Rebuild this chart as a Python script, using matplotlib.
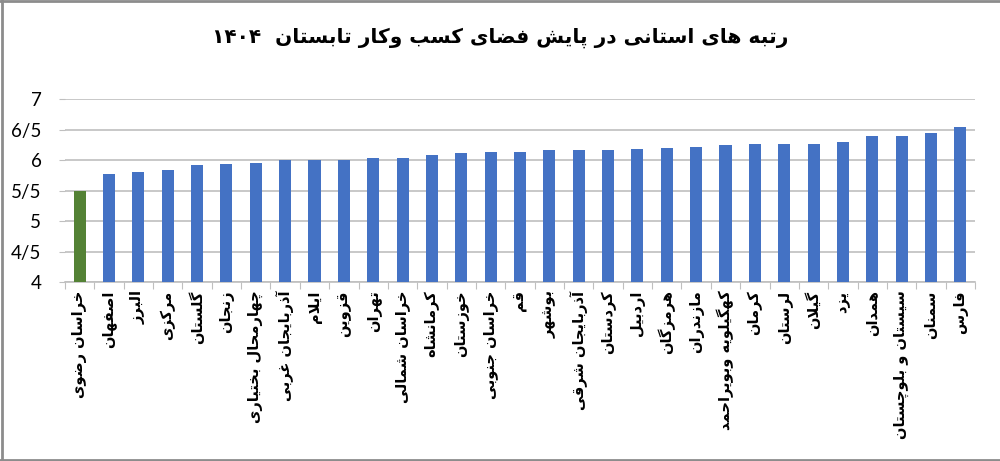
import re
import matplotlib
matplotlib.use('Agg')
import matplotlib.pyplot as plt
from matplotlib.ticker import FuncFormatter, FixedLocator, NullFormatter
from matplotlib.lines import Line2D

provinces = ['خراسان رضوی', 'اصفهان', 'البرز', 'مرکزی', 'گلستان', 'زنجان',
             'چهارمحال بختیاری', 'آذربایجان غربی', 'ایلام', 'قزوین', 'تهران',
             'خراسان شمالی', 'کرمانشاه', 'خوزستان', 'خراسان جنوبی', 'قم',
             'بوشهر', 'آذربایجان شرقی', 'کردستان', 'اردبیل', 'هرمزگان',
             'مازندران', 'کهگیلویه وبویراحمد', 'کرمان', 'لرستان', 'گیلان',
             'یزد', 'همدان', 'سیستان و بلوچستان', 'سمنان', 'فارس']
scores = [5.50, 5.77, 5.81, 5.83, 5.92, 5.94, 5.96, 6.00, 6.00, 6.01, 6.04,
          6.04, 6.08, 6.12, 6.14, 6.14, 6.17, 6.17, 6.17, 6.19, 6.20,
          6.22, 6.24, 6.26, 6.26, 6.27, 6.30, 6.39, 6.40, 6.44, 6.55]
title = 'رتبه های استانی در پایش فضای کسب وکار تابستان  ۱۴۰۴'

# presentation forms: isolated, final, initial, medial (None = right-joining)
FORMS = {
    'ا': (0xFE8D, 0xFE8E, None, None), 'آ': (0xFE81, 0xFE82, None, None),
    'ب': (0xFE8F, 0xFE90, 0xFE91, 0xFE92), 'پ': (0xFB56, 0xFB57, 0xFB58, 0xFB59),
    'ت': (0xFE95, 0xFE96, 0xFE97, 0xFE98), 'ث': (0xFE99, 0xFE9A, 0xFE9B, 0xFE9C),
    'ج': (0xFE9D, 0xFE9E, 0xFE9F, 0xFEA0), 'چ': (0xFB7A, 0xFB7B, 0xFB7C, 0xFB7D),
    'ح': (0xFEA1, 0xFEA2, 0xFEA3, 0xFEA4), 'خ': (0xFEA5, 0xFEA6, 0xFEA7, 0xFEA8),
    'د': (0xFEA9, 0xFEAA, None, None), 'ذ': (0xFEAB, 0xFEAC, None, None),
    'ر': (0xFEAD, 0xFEAE, None, None), 'ز': (0xFEAF, 0xFEB0, None, None),
    'ژ': (0xFB8A, 0xFB8B, None, None),
    'س': (0xFEB1, 0xFEB2, 0xFEB3, 0xFEB4), 'ش': (0xFEB5, 0xFEB6, 0xFEB7, 0xFEB8),
    'ص': (0xFEB9, 0xFEBA, 0xFEBB, 0xFEBC), 'ض': (0xFEBD, 0xFEBE, 0xFEBF, 0xFEC0),
    'ط': (0xFEC1, 0xFEC2, 0xFEC3, 0xFEC4), 'ظ': (0xFEC5, 0xFEC6, 0xFEC7, 0xFEC8),
    'ع': (0xFEC9, 0xFECA, 0xFECB, 0xFECC), 'غ': (0xFECD, 0xFECE, 0xFECF, 0xFED0),
    'ف': (0xFED1, 0xFED2, 0xFED3, 0xFED4), 'ق': (0xFED5, 0xFED6, 0xFED7, 0xFED8),
    'ک': (0xFB8E, 0xFB8F, 0xFB90, 0xFB91), 'گ': (0xFB92, 0xFB93, 0xFB94, 0xFB95),
    'ل': (0xFEDD, 0xFEDE, 0xFEDF, 0xFEE0), 'م': (0xFEE1, 0xFEE2, 0xFEE3, 0xFEE4),
    'ن': (0xFEE5, 0xFEE6, 0xFEE7, 0xFEE8), 'و': (0xFEED, 0xFEEE, None, None),
    'ه': (0xFEE9, 0xFEEA, 0xFEEB, 0xFEEC), 'ی': (0xFBFC, 0xFBFD, 0xFBFE, 0xFBFF),
}
LAM_ALEF = {'ا': (0xFEFB, 0xFEFC), 'آ': (0xFEF5, 0xFEF6)}


def dual(c):
    return c in FORMS and FORMS[c][2] is not None


def shape(text):
    # join letters and flip to visual order (matplotlib has no bidi)
    out = []
    i = 0
    while i < len(text):
        c = text[i]
        prev = text[i - 1] if i > 0 else ''
        joined_prev = dual(prev)
        if c == 'ل' and i + 1 < len(text) and text[i + 1] in LAM_ALEF:
            iso, fin = LAM_ALEF[text[i + 1]]
            out.append(chr(fin if joined_prev else iso))
            i += 2
            continue
        if c in FORMS:
            iso, fin, ini, med = FORMS[c]
            nxt = text[i + 1] if i + 1 < len(text) else ''
            joined_next = dual(c) and nxt in FORMS
            if joined_prev and joined_next:
                g = med
            elif joined_prev:
                g = fin
            elif joined_next:
                g = ini
            else:
                g = iso
            out.append(chr(g))
        else:
            out.append(c)
        i += 1
    vis = ''.join(out)[::-1]
    return re.sub(r'[0-9\u06F0-\u06F9]+', lambda m: m.group()[::-1], vis)


blue = '#4472C4'
green = '#548235'
colors = [green] + [blue] * (len(scores) - 1)

fig = plt.figure(figsize=(10, 4.61), dpi=100)
ax = fig.add_axes([0.065, 0.388, 0.91, 0.397])

x = range(len(scores))
ax.bar(x, scores, width=0.41, color=colors, zorder=3)

ax.set_xlim(-0.5, len(scores) - 0.5)
ax.set_ylim(4, 7)
ax.set_yticks([4, 4.5, 5, 5.5, 6, 6.5, 7])
ax.yaxis.set_major_formatter(FuncFormatter(lambda v, p: f'{v:g}'.replace('.', '/')))
ax.tick_params(axis='y', length=4, width=0.8, color='#bfbfbf', pad=13,
               labelsize=13.5, labelfontfamily='Lato')
ax.grid(axis='y', color='#bfbfbf', linewidth=1.2, zorder=0)

ax.set_xticks(list(x))
ax.set_xticklabels([shape(p) for p in provinces], rotation=90,
                   fontsize=10.5, fontweight='bold', family=['DejaVu Sans'])
ax.tick_params(axis='x', length=0, pad=6)
ax.xaxis.set_minor_locator(FixedLocator([i - 0.5 for i in range(len(scores) + 1)]))
ax.xaxis.set_minor_formatter(NullFormatter())
ax.tick_params(axis='x', which='minor', length=5, width=0.8, color='#bfbfbf')

for s in ['top', 'right', 'left']:
    ax.spines[s].set_visible(False)
ax.spines['bottom'].set_color('#bfbfbf')
ax.spines['bottom'].set_linewidth(1.2)

fig.text(0.5, 0.918, shape(title), ha='center', va='center', fontsize=14.5,
         fontweight='bold', family=['DejaVu Sans'])

frame = '#8c8c8c'
fig.add_artist(Line2D([0.002, 0.002], [0, 1], transform=fig.transFigure, color=frame, lw=2))
fig.add_artist(Line2D([0, 1], [0.998, 0.998], transform=fig.transFigure, color=frame, lw=2))
fig.add_artist(Line2D([0, 1], [0.002, 0.002], transform=fig.transFigure, color=frame, lw=2))

fig.savefig('out.png', dpi=100)
